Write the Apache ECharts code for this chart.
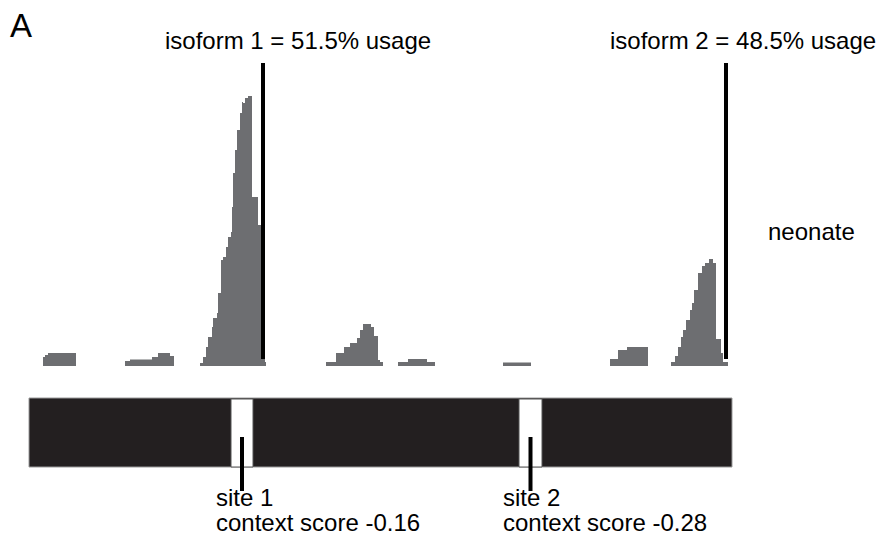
<!DOCTYPE html>
<html>
<head>
<meta charset="utf-8">
<style>
  html, body { margin: 0; padding: 0; background: #ffffff; }
  #chart { width: 882px; height: 541px; }
</style>
<script src="https://cdn.jsdelivr.net/npm/echarts@6/dist/echarts.min.js"></script>
</head>
<body>
<div id="chart"></div>
<script>
// Read coverage along the 3' UTR (position, depth); each step holds until the next position.
const coveragePositions = [
  0, 14, 16, 19, 47,
  96, 101, 123, 129, 141, 145,
  171, 174, 177, 179, 183, 184, 188, 189, 192, 194, 197, 199, 202, 203, 204, 206, 208, 211, 213, 214, 216, 219, 223, 229, 232, 236, 237,
  297, 307, 315, 321, 328, 331, 334, 342, 345, 349, 351, 354,
  369, 379, 398, 406,
  474, 502,
  581, 589, 598, 619,
  642, 646, 649, 652, 654, 657, 661, 663, 665, 669, 673, 676, 680, 684, 687, 692, 694, 699, 703
];
const coverageDepth = [
  0, 9, 11, 13, 0,
  5, 6.5, 9, 13, 10, 0,
  3, 9, 19, 29, 39, 48, 53, 73, 106, 109, 119, 129, 134, 159, 193, 216, 236, 253, 264, 263, 268, 270, 169, 141, 141, 4, 0,
  4, 13, 19, 23, 28, 36, 42, 39, 30, 6, 4, 0,
  4, 7, 4, 0,
  3.5, 0,
  7, 16, 19, 0,
  4, 10, 19, 29, 36, 46, 56, 63, 76, 93, 100, 103, 107, 103, 27, 13, 4, 0, 0
];

// Polyadenylation cleavage positions of the two isoforms.
const isoformEnds = [234, 697];
const isoformLabels = ['isoform 1 = 51.5% usage', 'isoform 2 = 48.5% usage'];

// Transcript extent and the two binding sites.
const transcriptSpan = [0, 703];
const siteSpans = [[202, 224], [490, 513]];
const siteNames = ['site 1', 'site 2'];
const siteScores = ['context score -0.16', 'context score -0.28'];

const coverageMax = 303;
const GREY = '#6d6e71';
const FONT = '"Liberation Sans", Arial, Helvetica, sans-serif';

const coverageData = coveragePositions.map((p, i) => [p, coverageDepth[i]]);

const chart = echarts.init(document.getElementById('chart'), null, { renderer: 'svg' });

function label(text, x, y, size, valign) {
  return {
    type: 'text', x: x, y: y,
    style: { text: text, font: size + 'px ' + FONT, fill: '#000', textVerticalAlign: valign || 'middle' }
  };
}

const option = {
  backgroundColor: '#ffffff',
  animation: false,
  grid: [
    { left: 29, top: 63, width: 703, height: 303 },
    { left: 29, top: 398, width: 703, height: 69 }
  ],
  xAxis: [
    { type: 'value', gridIndex: 0, min: transcriptSpan[0], max: transcriptSpan[1], show: false },
    { type: 'value', gridIndex: 1, min: transcriptSpan[0], max: transcriptSpan[1], show: false }
  ],
  yAxis: [
    { type: 'value', gridIndex: 0, min: 0, max: coverageMax, show: false },
    { type: 'value', gridIndex: 1, min: 0, max: 1, show: false }
  ],
  series: [
    {
      name: 'coverage',
      type: 'line',
      xAxisIndex: 0, yAxisIndex: 0,
      step: 'end',
      symbol: 'none',
      lineStyle: { width: 0 },
      areaStyle: { color: GREY, opacity: 1 },
      data: coverageData,
      z: 2
    },
    {
      name: 'isoform ends',
      type: 'custom',
      xAxisIndex: 0, yAxisIndex: 0,
      data: isoformEnds.map(x => [x]),
      renderItem: function (params, api) {
        const x = api.coord([api.value(0), 0])[0];
        const yBottom = api.coord([0, 0])[1] - 7;
        const yTop = api.coord([0, coverageMax])[1];
        return {
          type: 'rect',
          shape: { x: x - 2, y: yTop, width: 4, height: yBottom - yTop },
          style: { fill: '#000000' }
        };
      },
      z: 3
    },
    {
      name: 'transcript',
      type: 'custom',
      xAxisIndex: 1, yAxisIndex: 1,
      clip: false,
      data: [transcriptSpan],
      renderItem: function (params, api) {
        const p0 = api.coord([api.value(0), 1]);
        const p1 = api.coord([api.value(1), 0]);
        return {
          type: 'rect',
          shape: { x: p0[0], y: p0[1], width: p1[0] - p0[0], height: p1[1] - p0[1] },
          style: { fill: '#231f20', stroke: '#9a9a9a', lineWidth: 1 }
        };
      },
      z: 2
    },
    {
      name: 'sites',
      type: 'custom',
      xAxisIndex: 1, yAxisIndex: 1,
      clip: false,
      data: siteSpans,
      renderItem: function (params, api) {
        const p0 = api.coord([api.value(0), 1]);
        const p1 = api.coord([api.value(1), 0]);
        const cx = (p0[0] + p1[0]) / 2;
        return {
          type: 'group',
          children: [
            {
              type: 'rect',
              shape: { x: p0[0], y: p0[1] + 1, width: p1[0] - p0[0], height: p1[1] - p0[1] - 1 },
              style: { fill: '#ffffff', stroke: '#555555', lineWidth: 1 }
            },
            {
              type: 'rect',
              shape: { x: cx - 2, y: p1[1] - 30, width: 4, height: 54 },
              style: { fill: '#000000' }
            }
          ]
        };
      },
      z: 3
    }
  ],
  graphic: [
    { type: 'text', left: 10, top: 9, style: { text: 'A', font: '33px ' + FONT, fill: '#000' } },
    label(isoformLabels[0], 165, 40, 24),
    label(isoformLabels[1], 610, 40, 24),
    label('neonate', 768, 231, 24),
    label(siteNames[0], 216, 497, 24),
    label(siteScores[0], 216, 522, 24),
    label(siteNames[1], 503, 497, 24),
    label(siteScores[1], 503, 522, 24)
  ]
};

chart.setOption(option);
</script>
</body>
</html>
